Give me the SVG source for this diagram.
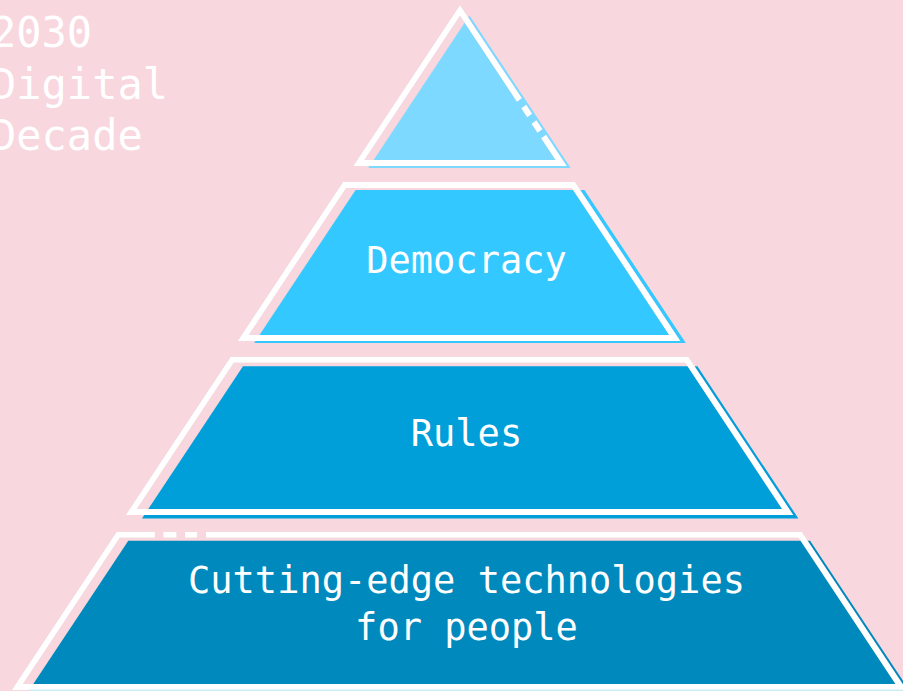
<svg xmlns="http://www.w3.org/2000/svg" width="903" height="691" viewBox="0 0 903 691">
  <defs>
    <filter id="edge" x="-5%" y="-5%" width="110%" height="110%">
      <feDropShadow dx="0" dy="0" stdDeviation="0.6" flood-color="#9c7480" flood-opacity="0.55"/>
    </filter>
  </defs>
  <style>
    .outline { fill: none; stroke: #ffffff; stroke-width: 6; stroke-linejoin: miter; stroke-miterlimit: 10; filter: url(#edge); }
    .label { font-family: "DejaVu Sans Mono", "Liberation Mono", monospace; font-size: 37px; fill: #ffffff; text-anchor: middle; }
    .title { font-family: "DejaVu Sans Mono", "Liberation Mono", monospace; font-size: 42px; fill: #ffffff; }
  </style>
  <rect x="0" y="0" width="903" height="691" fill="#F8D7DF"/>

  <g id="title">
    <text class="title" x="-9" y="47">2030</text>
    <text class="title" x="-9" y="98.5">Digital</text>
    <text class="title" x="-9" y="150">Decade</text>
  </g>

  <g id="tier-top">
    <polygon points="469.5,15.4 570.7,168 368.3,168" fill="#7DD9FF"/>
    <path class="outline" d="M460,163 L561.2,163 L460,10.4 L358.8,163 Z" stroke-dasharray="133 6.6 10.8 7.8 10.8 7.8 1000"/>
  </g>

  <g id="tier-democracy">
    <polygon points="355.6,190 584.4,190 685.8,343 254.2,343" fill="#33C8FF"/>
    <path class="outline" d="M344.6,185 L573.4,185 L674.8,338 L243.2,338 Z"/>
    <text class="label" x="466.5" y="273">Democracy</text>
  </g>

  <g id="tier-rules">
    <polygon points="243,366.2 697.4,366.2 798.4,518.5 142,518.5" fill="#009FD9"/>
    <path class="outline" d="M232.3,359.7 L686.7,359.7 L787.7,512 L131.3,512 Z"/>
    <text class="label" x="466.5" y="446">Rules</text>
  </g>

  <g id="tier-technologies">
    <polygon points="128.3,540.7 810.1,540.7 911.1,693 27.3,693" fill="#0089BC"/>
    <path class="outline" d="M459.2,687 L17.3,687 L118.3,534.7 L800.1,534.7 L901.1,687 Z" stroke-dasharray="661.3 8.3 13.4 8.3 12.3 8.7 3000"/>
    <rect x="29" y="689.5" width="874" height="1.5" fill="#CDEEF7"/>
    <text class="label" x="466.5" y="593">Cutting-edge technologies</text>
    <text class="label" x="466.5" y="640">for people</text>
  </g>
</svg>
